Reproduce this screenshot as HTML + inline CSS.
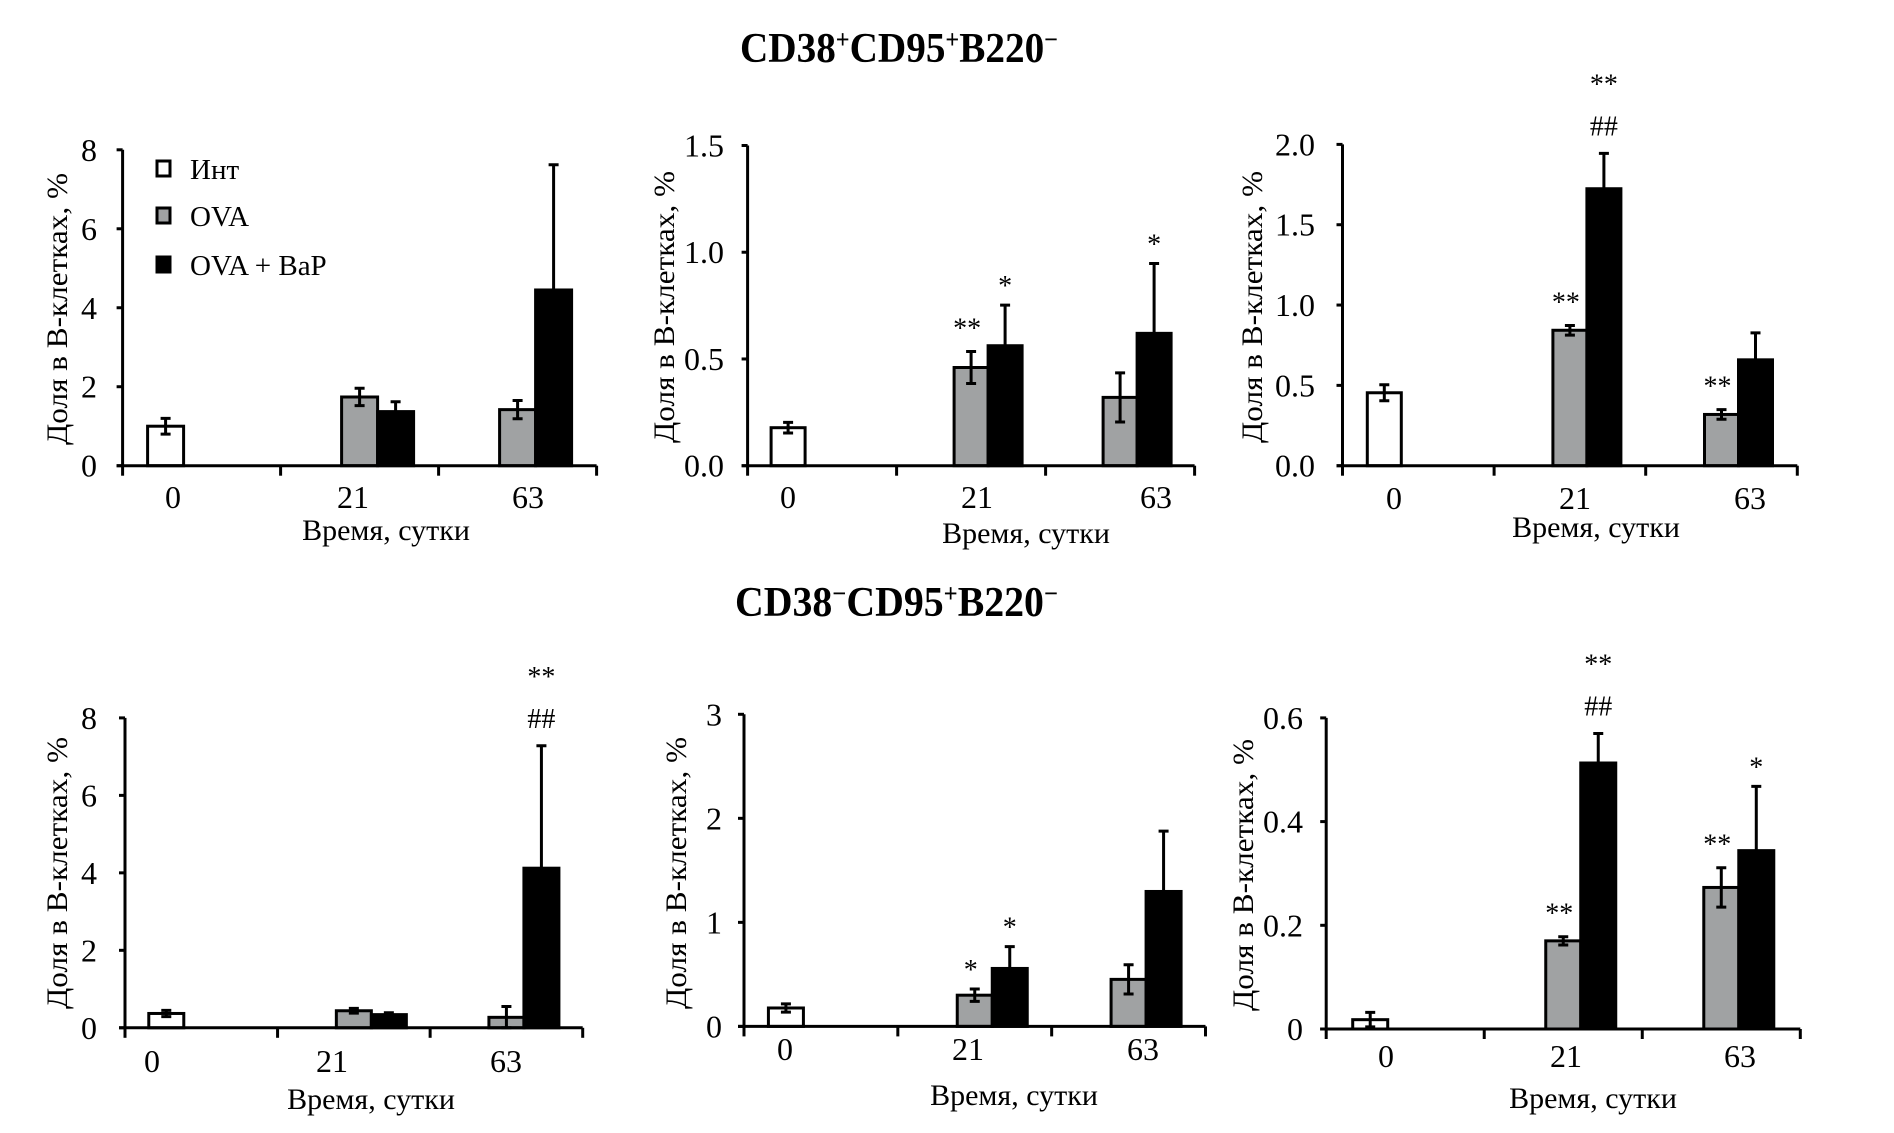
<!DOCTYPE html>
<html><head><meta charset="utf-8">
<style>
html,body{margin:0;padding:0;background:#fff;}
svg{display:block;}
text{font-family:"Liberation Serif","DejaVu Serif",serif;fill:#000;}
</style></head>
<body>
<svg id="fig" width="1894" height="1133" viewBox="0 0 1894 1133" xmlns="http://www.w3.org/2000/svg">
<rect x="0" y="0" width="1894" height="1133" fill="#fff"/>
<text x="740" y="62" font-size="42" font-weight="bold" textLength="318" lengthAdjust="spacingAndGlyphs">CD38<tspan dy="-14" font-size="26">+</tspan><tspan dy="14">CD95</tspan><tspan dy="-14" font-size="26">+</tspan><tspan dy="14">B220</tspan><tspan dy="-14" font-size="26">−</tspan></text>
<text x="735" y="616" font-size="42" font-weight="bold" textLength="323" lengthAdjust="spacingAndGlyphs">CD38<tspan dy="-14" font-size="26">−</tspan><tspan dy="14">CD95</tspan><tspan dy="-14" font-size="26">+</tspan><tspan dy="14">B220</tspan><tspan dy="-14" font-size="26">−</tspan></text>
<g id="panels"></g>
<g id="legend">
  <rect x="157" y="161" width="13" height="15" fill="#fff" stroke="#000" stroke-width="3"/>
  <text x="190" y="179" font-size="29">Инт</text>
  <rect x="157" y="208" width="13" height="15" fill="#a0a2a3" stroke="#000" stroke-width="3"/>
  <text x="190" y="226" font-size="29">OVA</text>
  <rect x="157" y="257" width="13" height="15" fill="#000" stroke="#000" stroke-width="3"/>
  <text x="190" y="275" font-size="29">OVA + BaP</text>
</g>
</svg>
<script>
// ---- data ----
const categories = ['0', '21', '63'];
// panel order: top-left, top-mid, top-right, bottom-left, bottom-mid, bottom-right
const intVals = [1.0, 0.178, 0.454, 0.37, 0.177, 0.018];
const intErr  = [0.2, 0.025, 0.05, 0.08, 0.04, 0.014];
const ovaVals21 = [1.74, 0.46, 0.843, 0.44, 0.30, 0.170];
const ovaErr21  = [0.22, 0.075, 0.03, 0.06, 0.06, 0.008];
const ovaVals63 = [1.42, 0.32, 0.319, 0.27, 0.452, 0.273];
const ovaErr63  = [0.23, 0.115, 0.03, 0.28, 0.14, 0.038];
const bapVals21 = [1.37, 0.562, 1.724, 0.34, 0.557, 0.513];
const bapErr21  = [0.25, 0.19, 0.22, 0.05, 0.21, 0.057];
const bapVals63 = [4.45, 0.62, 0.659, 4.12, 1.297, 0.344];
const bapErr63  = [3.17, 0.327, 0.168, 3.16, 0.58, 0.124];
const yMaxes = [8, 1.5, 2.0, 8, 3, 0.6];
const yTickLabels = [
  ['0','2','4','6','8'],
  ['0.0','0.5','1.0','1.5'],
  ['0.0','0.5','1.0','1.5','2.0'],
  ['0','2','4','6','8'],
  ['0','1','2','3'],
  ['0','0.2','0.4','0.6']
];
const yTickValues = [
  [0,2,4,6,8],[0,0.5,1,1.5],[0,0.5,1,1.5,2],[0,2,4,6,8],[0,1,2,3],[0,0.2,0.4,0.6]
];
// significance marks: [panel, category index, series ('ova'|'bap'), labels bottom->top]
const marks = [
  [1,1,'ova',['**']],[1,1,'bap',['*']],[1,2,'bap',['*']],
  [2,1,'ova',['**']],[2,1,'bap',['##','**']],[2,2,'ova',['**']],
  [3,2,'bap',['##','**']],
  [4,1,'ova',['*']],[4,1,'bap',['*']],
  [5,1,'ova',['**']],[5,1,'bap',['##','**']],[5,2,'ova',['**']],[5,2,'bap',['*']]
];
// ---- layout (pixels) ----
const layout = [
  {x0:122.6,x1:596.6,y0:465.7,yT:149.8,w:36,tl:[173,353,528],tly:497,xl:386,xly:540,yl:57,yly:309,tr:97},
  {x0:747.6,x1:1194.6,y0:465.7,yT:145.5,w:34,tl:[788,977,1156],tly:497,xl:1026,xly:543,yl:664,yly:307,tr:724},
  {x0:1342.5,x1:1797.3,y0:465.7,yT:144.4,w:34,tl:[1394,1575,1750],tly:498,xl:1596,xly:537,yl:1252,yly:307,tr:1315},
  {x0:125,x1:582.7,y0:1027.8,yT:717.9,w:35,tl:[152,332,506],tly:1061,xl:371,xly:1109,yl:57,yly:873,tr:97},
  {x0:744,x1:1205.5,y0:1026.4,yT:714.3,w:35,tl:[785,968,1143],tly:1049,xl:1014,xly:1105,yl:676,yly:873,tr:722},
  {x0:1326.2,x1:1800.3,y0:1029,yT:717.9,w:35,tl:[1386,1566,1740],tly:1056,xl:1593,xly:1108,yl:1243,yly:875,tr:1303}
];
const NS='http://www.w3.org/2000/svg';
const root=document.getElementById('panels');
function mk(tag, attrs, parent){const e=document.createElementNS(NS,tag);for(const k in attrs)e.setAttribute(k,attrs[k]);parent.appendChild(e);return e;}

layout.forEach((L,p)=>{
  const g=mk('g',{},root);
  
  
  const yScale=v=>L.y0-(v/yMaxes[p])*(L.y0-L.yT);
  const cw=(L.x1-L.x0)/categories.length;
  const cx=i=>L.x0+cw*(i+0.5);
  const series=[];
  series.push({cat:0,off:-1.5,v:intVals[p],e:intErr[p],fill:'#fff',name:'int',lo:true});
  series.push({cat:1,off:-0.5,v:ovaVals21[p],e:ovaErr21[p],fill:'#a0a2a3',name:'ova',lo:true});
  series.push({cat:1,off:0.5,v:bapVals21[p],e:bapErr21[p],fill:'#000',name:'bap',lo:false});
  series.push({cat:2,off:-0.5,v:ovaVals63[p],e:ovaErr63[p],fill:'#a0a2a3',name:'ova',lo:true});
  series.push({cat:2,off:0.5,v:bapVals63[p],e:bapErr63[p],fill:'#000',name:'bap',lo:false});
  const tops={};
  series.forEach(s=>{
    const left=cx(s.cat)+s.off*L.w;
    const yt=yScale(s.v);
    const r=mk('rect',{x:left,y:yt,width:L.w,height:L.y0-yt,fill:s.fill,stroke:'#000','stroke-width':3},g);
    
    
    const mx=left+L.w/2;
    const ye=yScale(s.v+s.e);
    const yb=s.lo?yScale(Math.max(0,s.v-s.e)):yt;
    const eb=mk('path',{d:`M${mx},${yb}V${ye}M${mx-5},${ye}H${mx+5}`+(s.lo?`M${mx-5},${yb}H${mx+5}`:''),stroke:'#000','stroke-width':3,fill:'none'},g);
    
    
    tops[s.cat+'-'+s.name]={x:mx,y:ye};
  });
  const ax=mk('path',{d:`M${L.x0},${L.yT}V${L.y0}M${L.x0-6},${L.y0}H${L.x1}`,stroke:'#000','stroke-width':3,fill:'none'},g);
  
  
  for(let i=0;i<=categories.length;i++){
    const t=mk('line',{x1:L.x0+cw*i,x2:L.x0+cw*i,y1:L.y0,y2:L.y0+10,stroke:'#000','stroke-width':3},g);
    
    
  }
  yTickValues[p].forEach((v,i)=>{
    const y=yScale(v);
    const t=mk('line',{x1:L.x0-6,x2:L.x0,y1:y,y2:y,stroke:'#000','stroke-width':3},g);
    
    
    const tx=mk('text',{x:L.tr,y:y+11,'font-size':32,'text-anchor':'end'},g);
    tx.textContent=yTickLabels[p][i];
    
    
  });
  categories.forEach((c,i)=>{
    const tx=mk('text',{x:L.tl[i],y:L.tly+11,'font-size':32,'text-anchor':'middle'},g);
    tx.textContent=c;
    
    
  });
  const xl=mk('text',{x:L.xl,y:L.xly,'font-size':30,'text-anchor':'middle'},g);
  xl.textContent='Время, сутки';
  
  
  const yl=mk('text',{x:0,y:0,'font-size':30,'text-anchor':'middle',transform:`translate(${L.yl+10},${L.yly}) rotate(-90)`,textLength:272,lengthAdjust:'spacingAndGlyphs'},g);
  yl.textContent='Доля в В-клетках, %';
  
  
  marks.filter(m=>m[0]===p).forEach(m=>{
    const t=tops[m[1]+'-'+m[2]];
    let y=t.y;
    m[3].forEach((lab,k)=>{
      let base;
      if(k===0) base = lab==='##' ? y-28+10 : (lab==='**' ? y-26+12 : y-22+12);
      else base = y-44+12;
      if(k===0 && lab==='##') y=y-28; else if(k===0) y=y-(lab==='**'?26:22); else y=y-44;
      const tx=mk('text',{x:t.x+(m[2]==='ova'?-4:0),y:base,'font-size':28,'text-anchor':'middle'},g);
      tx.textContent=lab;
      
      
    });
  });
});
</script>
</body></html>
